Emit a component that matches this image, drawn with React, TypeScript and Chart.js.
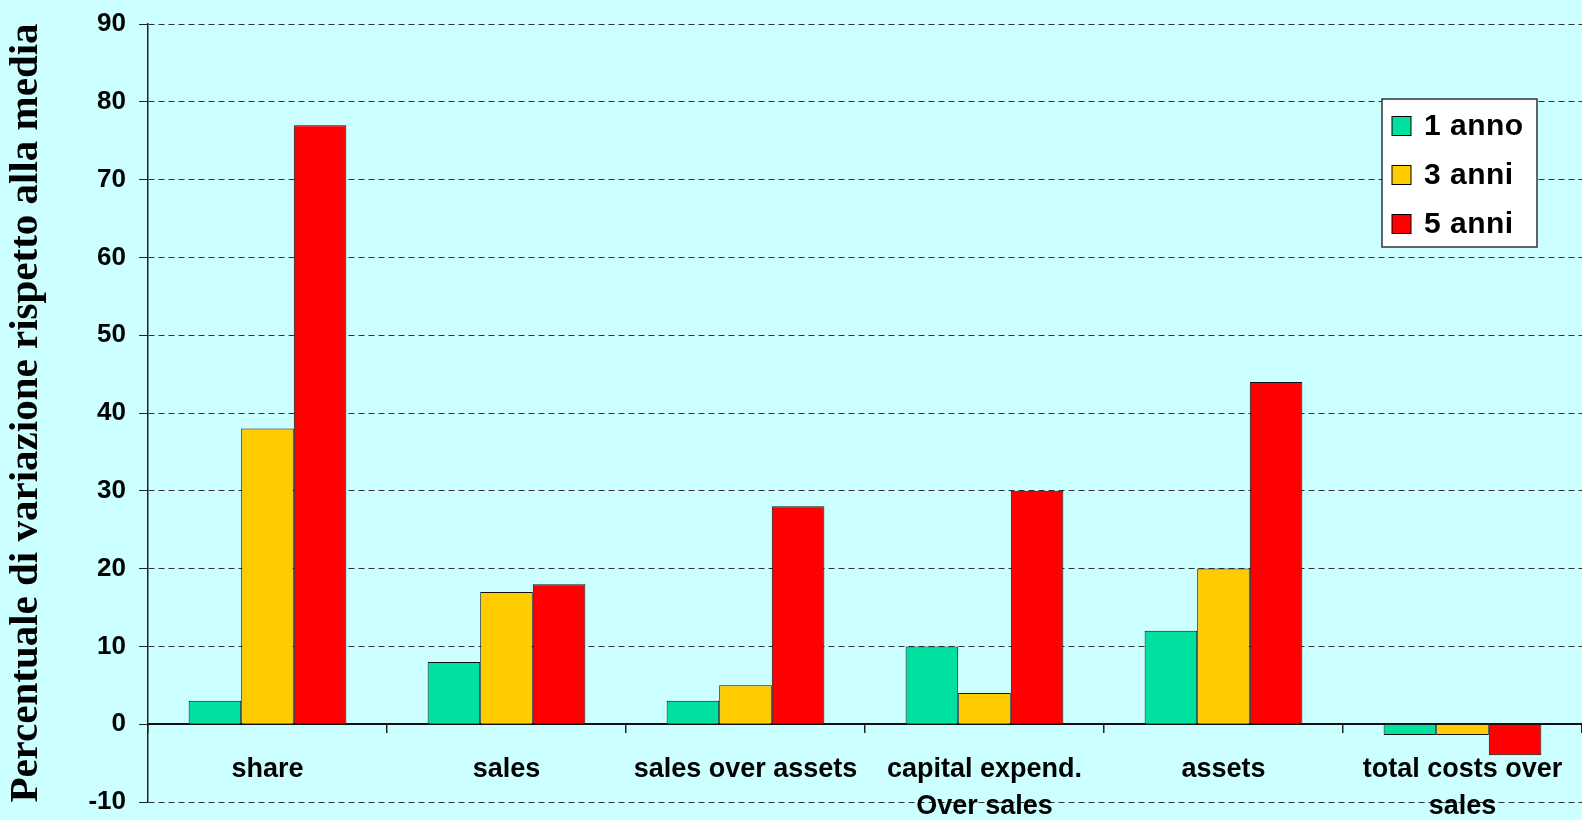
import React, { useEffect, useRef } from 'react';
import { Chart, registerables } from 'chart.js';

Chart.register(...registerables);

const categories: (string | string[])[] = [
  'share',
  'sales',
  'sales over assets',
  ['capital expend.', 'Over sales'],
  'assets',
  ['total costs over', 'sales'],
];
const seriesNames = ['1 anno', '3 anni', '5 anni'];
const oneYear = [3, 8, 3, 10, 12, -1.4];
const threeYears = [38, 17, 5, 4, 20, -1.4];
const fiveYears = [77, 18, 28, 30, 44, -4];
const seriesColors = ['#00E0A0', '#FFCC00', '#FF0000'];
const yMin = -10;
const yMax = 90;
const yStep = 10;
const yTitle = 'Percentuale di variazione rispetto alla media';

const W = 1582;
const H = 820;

const boxLegend = {
  id: 'boxLegend',
  afterDraw(chart: any) {
    const { ctx, chartArea } = chart;
    const x = chartArea.right - 200;
    const y = chartArea.top + 75;
    const w = 155;
    const h = 148;
    ctx.save();
    ctx.fillStyle = '#FFFFFF';
    ctx.fillRect(x, y, w, h);
    ctx.strokeStyle = '#333333';
    ctx.lineWidth = 1.5;
    ctx.strokeRect(x, y, w, h);
    chart.data.datasets.forEach((ds: any, i: number) => {
      const cy = y + 27 + i * 49;
      ctx.fillStyle = ds.backgroundColor;
      ctx.fillRect(x + 10, cy - 9.5, 19, 19);
      ctx.strokeStyle = '#000000';
      ctx.lineWidth = 1;
      ctx.strokeRect(x + 10, cy - 9.5, 19, 19);
      ctx.fillStyle = '#000000';
      ctx.font = 'bold 30px "Liberation Sans", Arial, sans-serif';
      ctx.textBaseline = 'middle';
      ctx.textAlign = 'left';
      try { (ctx as any).letterSpacing = '0.5px'; } catch (e) {}
      ctx.fillText(ds.label, x + 42, cy + 1);
    });
    ctx.restore();
  },
};

export default function App() {
  const canvasRef = useRef<HTMLCanvasElement | null>(null);

  useEffect(() => {
    if (!canvasRef.current) return;
    const values = [oneYear, threeYears, fiveYears];
    const chart = new Chart(canvasRef.current, {
      type: 'bar',
      data: {
        labels: categories as any,
        datasets: seriesNames.map((name, i) => ({
          label: name,
          data: values[i],
          backgroundColor: seriesColors[i],
          borderColor: '#111111',
          borderWidth: 1,
          categoryPercentage: 0.66,
          barPercentage: 1.0,
        })),
      },
      options: {
        animation: false,
        responsive: false,
        devicePixelRatio: 1,
        layout: { padding: { top: 24, right: 0, bottom: 18, left: 0 } },
        plugins: {
          legend: { display: false },
          tooltip: { enabled: false },
        },
        scales: {
          x: {
            position: { y: 0 } as any,
            grid: {
              display: true,
              drawOnChartArea: false,
              drawTicks: true,
              tickLength: 8,
              color: '#222222',
              lineWidth: 1.5,
              offset: true,
            },
            border: { display: true, color: '#111111', width: 2 },
            ticks: {
              color: '#000000',
              font: { family: '"Liberation Sans", Arial, sans-serif', size: 27, weight: 'bold', lineHeight: 1.4 },
              padding: 18,
              maxRotation: 0,
              minRotation: 0,
              autoSkip: false,
            },
            afterFit: (s: any) => {
              s.height = 0;
              s.paddingLeft = 0;
              s.paddingRight = 0;
              s.paddingTop = 0;
              s.paddingBottom = 0;
            },
          },
          y: {
            min: yMin,
            max: yMax,
            ticks: {
              stepSize: yStep,
              color: '#000000',
              font: { family: '"Liberation Sans", Arial, sans-serif', size: 26, weight: 'bold' },
              padding: 13,
            },
            grid: {
              color: '#333333',
              lineWidth: 1,
              tickLength: 9,
              drawTicks: true,
              tickColor: '#222222',
            },
            border: { display: true, color: '#222222', width: 1.5, dash: [6, 4] },
            title: {
              display: true,
              text: yTitle,
              color: '#000000',
              font: { family: '"Liberation Serif", "Times New Roman", serif', size: 41, weight: 'bold' },
              padding: { top: 2, bottom: 0 },
            },
            afterFit: (s: any) => {
              s.width = 148;
              s.paddingTop = 0;
              s.paddingBottom = 0;
              s.paddingLeft = 0;
              s.paddingRight = 0;
            },
          },
        },
      },
      plugins: [boxLegend],
    });
    return () => chart.destroy();
  }, []);

  return (
    <div
      style={{
        position: 'absolute',
        left: 0,
        top: 0,
        width: W + 'px',
        height: H + 'px',
        background: '#CCFFFF',
        overflow: 'hidden',
      }}
    >
      <canvas
        ref={canvasRef}
        width={W}
        height={H}
        style={{ display: 'block', width: W + 'px', height: H + 'px' }}
      />
    </div>
  );
}
